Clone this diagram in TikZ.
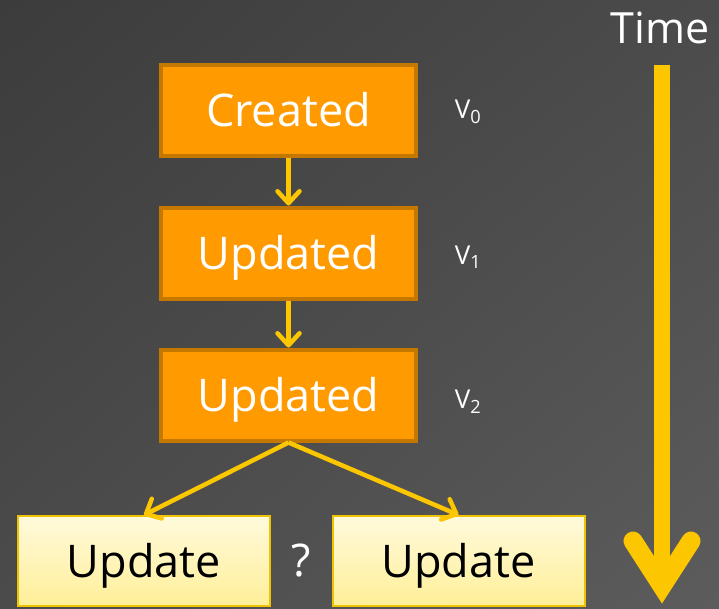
\documentclass[tikz,border=0pt]{standalone}
\usepackage{fontspec}
\setmainfont{Open Sans}
\usetikzlibrary{arrows.meta,calc,shadings}
\definecolor{bgdark}{HTML}{3C3C3C}
\definecolor{bgmid}{HTML}{4B4B4B}
\definecolor{bglight}{HTML}{5C5C5C}
\definecolor{stepfill}{HTML}{FF9A00}
\definecolor{stepedge}{HTML}{C47800}
\definecolor{flow}{HTML}{FCC700}
\definecolor{pendtop}{HTML}{FFFADC}
\definecolor{pendbot}{HTML}{FFEF98}
\definecolor{pendedge}{HTML}{EEC400}
\begin{document}
\begin{tikzpicture}[x=1pt,y=-1pt,
  bigtext/.style={font=\fontsize{45}{54}\selectfont, text height=32pt, text depth=0pt},
  statebox/.style={bigtext, draw=stepedge, fill=stepfill, line width=4pt,
    minimum width=255pt, minimum height=91pt, inner sep=0pt, text=white},
  pendbox/.style={bigtext, draw=pendedge, line width=2pt, top color=pendtop, bottom color=pendbot,
    minimum width=252pt, minimum height=90pt, inner sep=0pt, text=black},
  vlabel/.style={text=white, font=\fontsize{26}{30}\selectfont, inner sep=0pt},
  flowarrow/.style={draw=flow, line width=4.5pt,
    -{Straight Barb[length=12pt,width=22pt,line width=4.5pt,round]}}
]
% background
\useasboundingbox (0,0) rectangle (719,608);
\shade[upper left=bgdark, lower right=bglight, upper right=bgmid, lower left=bgmid]
  (0,0) rectangle (719,608);

% version chain
\node[statebox] (created) at (288.5,110.5) {Created};
\node[statebox] (upd1) at (288.5,253) {Updated};
\node[statebox] (upd2) at (288.5,395) {Updated};

\node[vlabel] (v0) at (468,112) {V\textsubscript{0}};
\node[vlabel] (v1) at (468,257) {V\textsubscript{1}};
\node[vlabel] (v2) at (468,402) {V\textsubscript{2}};

% competing updates
\node[pendbox] (left) at (144,561) {Update};
\node[pendbox] (right) at (458.5,561) {Update};
\node[bigtext, text=white, inner sep=0pt] (q) at (301,560) {?};

\draw[flowarrow] (created.south) -- (upd1.north);
\draw[flowarrow] (upd1.south) -- (upd2.north);
\draw[flowarrow] (upd2.south) -- (left.north);
\draw[flowarrow] (upd2.south) -- (right.north);

% time axis
\node[text=white, font=\fontsize{43}{50}\selectfont, inner sep=0pt] (time) at (660,28) {Time};
\coordinate (tstart) at (662,65);
\coordinate (tend) at (662,586);
\draw[flow, line width=16pt] (tstart) -- ($(tend)+(0,-10)$);
\draw[flow, line width=19pt, line cap=round, line join=miter]
  ($(tend)+(-29,-45)$) -- (tend) -- ($(tend)+(29,-45)$);
\end{tikzpicture}
\end{document}
